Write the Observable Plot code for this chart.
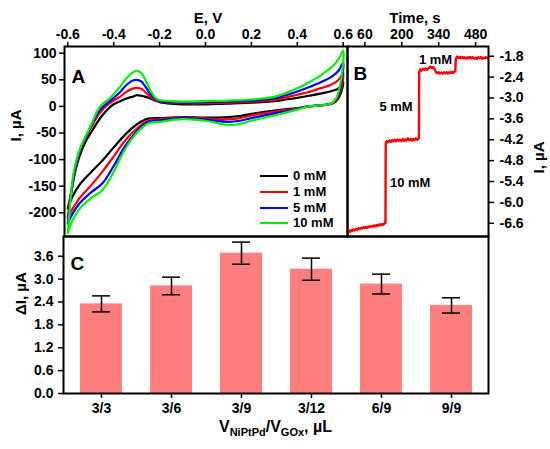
<!DOCTYPE html>
<html><head><meta charset="utf-8">
<script src="https://cdn.jsdelivr.net/npm/d3@7"></script>
<script src="https://cdn.jsdelivr.net/npm/@observablehq/plot@0.6"></script>
<style>
body{margin:0;background:#fff;}
#wrap{position:relative;width:550px;height:449px;overflow:hidden;background:#fff;font-family:"Liberation Sans",Arial,sans-serif;font-weight:bold;color:#000;}
#wrap svg{position:absolute;left:0;top:0;}
.lg{position:absolute;left:260px;height:16px;font-size:13px;line-height:16px;white-space:nowrap;}
.lg span.sw{position:absolute;left:0;top:7px;width:28px;height:0;border-top:2.5px solid #000;}
.lg span.tx{position:absolute;left:33px;top:0;}
#xt{position:absolute;left:63px;width:425px;top:420px;text-align:center;font-size:16px;line-height:14px;}
#xt sub{font-size:11px;vertical-align:-4px;line-height:0;}
</style></head><body><div id="wrap"></div>
<script>
// ---------- Panel A: cyclic voltammograms ----------
const seriesA = ["0 mM", "1 mM", "5 mM", "10 mM"];
const colorsA = ["#000000", "#ff0000", "#0000ff", "#00f000"];
const E_fwd = [-0.6, -0.59, -0.58, -0.57, -0.55, -0.52, -0.5, -0.47, -0.45, -0.42, -0.4, -0.37, -0.35, -0.32, -0.3, -0.28, -0.26, -0.24, -0.22, -0.2, -0.15, -0.1, 0, 0.1, 0.2, 0.3, 0.35, 0.4, 0.45, 0.5, 0.55, 0.58, 0.6];
const E_rev = [0.59, 0.57, 0.55, 0.5, 0.45, 0.4, 0.3, 0.2, 0.15, 0.1, 0, -0.1, -0.2, -0.25, -0.3, -0.35, -0.4, -0.45, -0.5, -0.55, -0.58, -0.6];
const I_fwd_0 = [-192, -172, -150, -127, -95, -64, -50, -29, -17, -3, 4, 10, 14, 18, 21, 20, 18, 15, 11, 8, 5, 4, 4, 5, 7, 10, 13, 16, 20, 24, 29, 34, 46];
const I_fwd_1 = [-208, -176, -148, -122, -88, -57, -41, -18, -7, 5, 11, 19, 26, 33, 35, 33, 26, 18, 12, 9, 7, 6, 6, 7, 9, 12, 17, 22, 27, 34, 41, 50, 63];
const I_fwd_5 = [-220, -180, -146, -120, -86, -55, -38, -13, -2, 9, 16, 28, 38, 48, 50, 47, 36, 23, 14, 10, 8, 7, 8, 9, 11, 15, 21, 28, 36, 45, 56, 67, 83];
const I_fwd_10 = [-238, -185, -140, -115, -83, -54, -36, -8, 4, 14, 23, 38, 50, 63, 67, 63, 48, 30, 17, 12, 10, 9, 10, 11, 13, 18, 25, 34, 45, 58, 74, 89, 105];
const I_rev_0 = [25, 10, 5, 2, 0, -3, -8, -14, -18, -20, -21, -20, -22, -23, -34, -53, -77, -102, -124, -148, -170, -192];
const I_rev_1 = [32, 12, 5, 2, 0, -4, -10, -17, -22, -24, -23, -21, -24, -27, -42, -64, -94, -123, -149, -173, -193, -208];
const I_rev_5 = [40, 14, 6, 2, 0, -5, -13, -22, -27, -29, -25, -22, -26, -29, -47, -74, -112, -145, -162, -183, -202, -220];
const I_rev_10 = [48, 16, 6, 2, 0, -6, -17, -27, -33, -35, -27, -24, -29, -32, -50, -80, -123, -158, -173, -193, -215, -238];
const eTicks = [-0.6, -0.4, -0.2, 0.0, 0.2, 0.4, 0.6];
const iTicksA = [100, 50, 0, -50, -100, -150, -200];

// ---------- Panel B: amperometric response ----------
const tB = [0,5,10,15,20,25,30,35,40,45,50,55,60,65,70,75,80,85,90,95,100,105,110,115,120,125,130,135,138,
  139,143,148,153,158,163,168,173,178,183,188,193,198,203,208,213,218,223,228,233,238,243,248,253,258,263,265,
  266,270,275,280,285,290,295,300,305,310,315,320,325,330,335,340,345,350,355,360,365,370,375,380,385,390,395,400,403,
  405,410,415,420,425,430,435,440,445,450,455,460,465,470,475,480,485,490,495,500,505,510,515,520,524];
const iB = [-6.86,-6.80,-6.83,-6.78,-6.81,-6.76,-6.79,-6.74,-6.77,-6.73,-6.75,-6.71,-6.74,-6.70,-6.73,-6.69,-6.71,-6.68,-6.70,-6.66,-6.69,-6.65,-6.67,-6.63,-6.66,-6.62,-6.64,-6.60,-6.59,
  -4.30,-4.24,-4.27,-4.22,-4.26,-4.21,-4.25,-4.20,-4.24,-4.19,-4.23,-4.20,-4.24,-4.18,-4.23,-4.19,-4.22,-4.16,-4.21,-4.17,-4.22,-4.18,-4.21,-4.16,-4.20,-4.17,-4.15,
  -2.26,-2.18,-2.21,-2.16,-2.19,-2.15,-2.19,-2.16,-2.12,-2.10,-2.14,-2.11,-2.18,-2.26,-2.29,-2.26,-2.30,-2.27,-2.30,-2.26,-2.29,-2.26,-2.30,-2.26,-2.29,-2.25,-2.28,-2.24,-2.23,
  -1.88,-1.81,-1.85,-1.82,-1.86,-1.82,-1.86,-1.83,-1.87,-1.83,-1.86,-1.82,-1.86,-1.83,-1.87,-1.84,-1.88,-1.83,-1.86,-1.82,-1.87,-1.84,-1.86,-1.83,-1.85];
const tTicks = [60, 200, 340, 480];
const iTicksB = [-1.8, -2.4, -3.0, -3.6, -4.2, -4.8, -5.4, -6.0, -6.6];
const annLabels = ["10 mM", "5 mM", "1 mM"];
const annT = [232, 178, 328];
const annI = [-5.45, -3.25, -1.9];

// ---------- Panel C: bar chart ----------
const ratios = ["3/3", "3/6", "3/9", "3/12", "6/9", "9/9"];
const deltaI = [2.35, 2.82, 3.68, 3.26, 2.87, 2.31];
const errI = [0.21, 0.23, 0.29, 0.29, 0.26, 0.20];
const yTicksC = [0, 0.6, 1.2, 1.8, 2.4, 3.0, 3.6];

// ---------- build tables ----------
const fwd = [I_fwd_0, I_fwd_1, I_fwd_5, I_fwd_10];
const rev = [I_rev_0, I_rev_1, I_rev_5, I_rev_10];
const cvData = [];
seriesA.forEach((s, k) => {
  E_fwd.forEach((e, j) => cvData.push({series: s, E: e, I: fwd[k][j]}));
  E_rev.forEach((e, j) => cvData.push({series: s, E: e, I: rev[k][j]}));
});
const nB = Math.min(tB.length, iB.length);
const ampData = d3.range(nB).map(i => ({t: tB[i], I: iB[i]}));
const annData = annLabels.map((l, i) => ({label: l, t: annT[i], I: annI[i]}));
const barData = ratios.map((r, i) => ({r, v: deltaI[i], e: errI[i]}));

const W = 550, H = 449;
const svgStyle = "background:transparent;overflow:visible;font-family:'Liberation Sans',Arial,sans-serif;font-size:14px;font-weight:bold;color:#000;";
const txt = d => d;
const TF = 14; // tick label font size

const chartA = Plot.plot({
  width: W, height: H, style: svgStyle,
  marginLeft: 64, marginRight: 203, marginTop: 46, marginBottom: 213,
  x: {domain: [-0.6144, 0.6187]},
  y: {domain: [-244.5, 112.6]},
  color: {domain: seriesA, range: colorsA},
  marks: [
    Plot.line(cvData, {x: "E", y: "I", z: "series", stroke: "series", strokeWidth: 2.2, curve: "catmull-rom"}),
    Plot.frame({stroke: "black", strokeWidth: 2}),
    Plot.axisX({anchor: "top", ticks: eTicks, tickFormat: d => d.toFixed(1), tickSize: 5, tickPadding: 3, strokeWidth: 1.5, fontSize: TF, label: null}),
    Plot.axisY({anchor: "left", ticks: iTicksA, tickFormat: d => String(d), tickSize: 5, tickPadding: 3, strokeWidth: 1.5, fontSize: TF, label: null}),
    Plot.text(["E, V"], {text: txt, frameAnchor: "top", dy: -34, dx: 2, fontSize: 15}),
    Plot.text(["I, µA"], {text: txt, frameAnchor: "left", dx: -48, rotate: -90, fontSize: 15}),
    Plot.text(["A"], {text: txt, frameAnchor: "top-left", textAnchor: "start", dx: 7, dy: 23, fontSize: 19})
  ]
});

const chartB = Plot.plot({
  width: W, height: H, style: svgStyle,
  marginLeft: 347, marginRight: 62, marginTop: 46, marginBottom: 213,
  x: {domain: [-6, 529]},
  y: {domain: [-6.98, -1.52]},
  marks: [
    Plot.line(ampData, {x: "t", y: "I", stroke: "#ff0000", strokeWidth: 2.4}),
    Plot.text(annData, {x: "t", y: "I", text: "label", fontSize: 13}),
    Plot.frame({stroke: "black", strokeWidth: 2}),
    Plot.axisX({anchor: "top", ticks: tTicks, tickFormat: d => String(d), tickSize: 5, tickPadding: 3, strokeWidth: 1.5, fontSize: TF, label: null}),
    Plot.axisY({anchor: "right", ticks: iTicksB, tickFormat: d => d.toFixed(1), tickSize: 5, tickPadding: 6, strokeWidth: 1.5, fontSize: TF, label: null}),
    Plot.text(["Time, s"], {text: txt, frameAnchor: "top", dy: -34, dx: -3, fontSize: 15}),
    Plot.text(["I, µA"], {text: txt, frameAnchor: "right", dx: 51, rotate: -90, fontSize: 15}),
    Plot.text(["B"], {text: txt, frameAnchor: "top-left", textAnchor: "start", dx: 6, dy: 20, fontSize: 19})
  ]
});

const chartC = Plot.plot({
  width: W, height: H, style: svgStyle,
  marginLeft: 63, marginRight: 62, marginTop: 236, marginBottom: 56,
  x: {type: "band", domain: ratios, paddingInner: 0.4, paddingOuter: 0.2},
  y: {domain: [0, 4.117]},
  marks: [
    Plot.barY(barData, {x: "r", y: "v", fill: "#ff7f7f"}),
    Plot.ruleX(barData, {x: "r", y1: d => d.v - d.e, y2: d => d.v + d.e, stroke: "black", strokeWidth: 1.5}),
    Plot.tickY(barData, {x: "r", y: d => d.v + d.e, insetLeft: 12, insetRight: 12, stroke: "black", strokeWidth: 1.5}),
    Plot.tickY(barData, {x: "r", y: d => d.v - d.e, insetLeft: 12, insetRight: 12, stroke: "black", strokeWidth: 1.5}),
    Plot.frame({stroke: "black", strokeWidth: 2}),
    Plot.axisY({anchor: "left", ticks: yTicksC, tickFormat: d => d.toFixed(1), tickSize: 5, tickPadding: 5, strokeWidth: 1.5, fontSize: TF, label: null}),
    Plot.axisX({anchor: "bottom", tickSize: 5, tickPadding: 5, strokeWidth: 1.5, fontSize: TF, label: null}),
    Plot.text(["ΔI, µA"], {text: txt, frameAnchor: "left", dx: -42, rotate: -90, fontSize: 15}),
    Plot.text(["C"], {text: txt, frameAnchor: "top-left", textAnchor: "start", dx: 7, dy: 20, fontSize: 19})
  ]
});

const wrap = document.getElementById("wrap");
wrap.appendChild(chartC);
wrap.appendChild(chartA);
wrap.appendChild(chartB);

// legend for panel A
const legTops = [168, 184, 199.5, 215];
seriesA.forEach((s, i) => {
  const row = document.createElement("div");
  row.className = "lg";
  row.style.top = legTops[i] + "px";
  row.innerHTML = `<span class="sw" style="border-top-color:${colorsA[i]}"></span><span class="tx">${s}</span>`;
  wrap.appendChild(row);
});

// x title for panel C
const xt = document.createElement("div");
xt.id = "xt";
xt.innerHTML = "V<sub>NiPtPd</sub>/V<sub>GOx</sub>, µL";
wrap.appendChild(xt);
</script>
</body></html>
